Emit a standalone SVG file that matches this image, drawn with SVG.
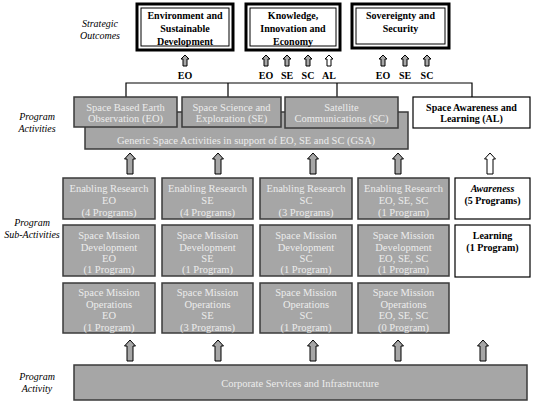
<svg xmlns="http://www.w3.org/2000/svg" width="537" height="408" viewBox="0 0 537 408">
<style>
text{font-family:'Liberation Serif','Times New Roman','DejaVu Serif',serif}
.lbl{font-style:italic;font-size:10px;fill:#000;text-anchor:middle}
.ob{fill:#fff;stroke:#000;stroke-width:3}
.obi{fill:none;stroke:#000;stroke-width:1}
.bt{font-weight:bold;font-size:10px;fill:#000;text-anchor:middle}
.g{fill:#a6a6a6;stroke:#3a3a3a;stroke-width:1.5}
.gt{font-size:10.5px;fill:#ececec;text-anchor:middle}
.w{fill:#fff;stroke:#000;stroke-width:1.2}
.conn{fill:none;stroke:#000;stroke-width:1.2}
.arr{fill:#a6a6a6;stroke:#000;stroke-width:1}
.harr{fill:#fff;stroke:#000;stroke-width:1}
</style>
<defs>
<path id="sa" d="M0,0 L4,4 L2,4 L2,11 L-2,11 L-2,4 L-4,4 Z"/>
<path id="ba" d="M0,0 L5.5,6 L3,6 L3,21 L-3,21 L-3,6 L-5.5,6 Z"/>
</defs>

<g id="side-labels">
<text class="lbl" x="100" y="27">Strategic</text>
<text class="lbl" x="100" y="39">Outcomes</text>
<text class="lbl" x="37" y="120">Program</text>
<text class="lbl" x="37" y="132">Activities</text>
<text class="lbl" x="32" y="226">Program</text>
<text class="lbl" x="32" y="238">Sub-Activities</text>
<text class="lbl" x="37" y="380">Program</text>
<text class="lbl" x="37" y="392">Activity</text>
</g>

<g id="outcome-env">
<rect class="ob" x="137" y="4" width="96" height="46"/>
<rect class="obi" x="141" y="8" width="88" height="38"/>
<text class="bt" x="185" y="18.5">Environment and</text>
<text class="bt" x="185" y="31.5">Sustainable</text>
<text class="bt" x="185" y="44.5">Development</text>
</g>
<g id="outcome-knowledge">
<rect class="ob" x="246" y="4" width="94" height="46"/>
<rect class="obi" x="250" y="8" width="86" height="38"/>
<text class="bt" x="293" y="18.5">Knowledge,</text>
<text class="bt" x="293" y="31.5">Innovation and</text>
<text class="bt" x="293" y="44.5">Economy</text>
</g>
<g id="outcome-sovereignty">
<rect class="ob" x="352" y="4" width="97" height="44"/>
<rect class="obi" x="356" y="8" width="89" height="36"/>
<text class="bt" x="400.5" y="18.5">Sovereignty and</text>
<text class="bt" x="400.5" y="31.5">Security</text>
</g>

<g id="connectors">
<use href="#sa" class="arr" x="185" y="55"/>
<use href="#sa" class="arr" x="266" y="55"/>
<use href="#sa" class="arr" x="287" y="55"/>
<use href="#sa" class="arr" x="308" y="55"/>
<use href="#sa" class="harr" x="329" y="55"/>
<use href="#sa" class="arr" x="383" y="55"/>
<use href="#sa" class="arr" x="405" y="55"/>
<use href="#sa" class="arr" x="427" y="55"/>
<text class="bt" x="185" y="79">EO</text>
<text class="bt" x="266" y="79">EO</text>
<text class="bt" x="287" y="79">SE</text>
<text class="bt" x="308" y="79">SC</text>
<text class="bt" x="329" y="79">AL</text>
<text class="bt" x="383" y="79">EO</text>
<text class="bt" x="405" y="79">SE</text>
<text class="bt" x="427" y="79">SC</text>
<path class="conn" d="M126,97 V83 H472 V97 M228,83 V97 M337,83 V97"/>
<use href="#ba" class="arr" x="130" y="153"/>
<use href="#ba" class="arr" x="218" y="153"/>
<use href="#ba" class="arr" x="313" y="153"/>
<use href="#ba" class="arr" x="398" y="153"/>
<use href="#ba" class="harr" x="490" y="153"/>
<use href="#ba" class="arr" x="130" y="340"/>
<use href="#ba" class="arr" x="218" y="340"/>
<use href="#ba" class="arr" x="313" y="340"/>
<use href="#ba" class="arr" x="398" y="340"/>
<use href="#ba" class="arr" x="483" y="340"/>
</g>

<g id="gsa">
<rect class="g" x="85" y="112" width="323" height="37"/>
<text class="gt" x="246" y="143.5">Generic Space Activities in support of EO, SE and SC (GSA)</text>
</g>
<g id="pa-eo">
<rect class="g" x="74" y="97" width="103" height="30"/>
<text class="gt" x="125.5" y="110.5">Space Based Earth</text>
<text class="gt" x="125.5" y="122">Observation (EO)</text>
</g>
<g id="pa-se">
<rect class="g" x="182" y="97" width="99" height="30"/>
<text class="gt" x="231.5" y="110.5">Space Science and</text>
<text class="gt" x="231.5" y="122">Exploration (SE)</text>
</g>
<g id="pa-sc">
<rect class="g" x="285" y="97" width="113" height="31"/>
<text class="gt" x="341.5" y="110.5">Satellite</text>
<text class="gt" x="341.5" y="122">Communications (SC)</text>
</g>
<g id="pa-al">
<rect class="w" x="413" y="97" width="117" height="31"/>
<text class="bt" x="471.5" y="110.5">Space Awareness and</text>
<text class="bt" x="471.5" y="122">Learning (AL)</text>
</g>

<g id="er-eo">
<rect class="g" x="63" y="178" width="92" height="41"/>
<text class="gt" x="109" y="191.5">Enabling Research</text>
<text class="gt" x="109" y="203.5">EO</text>
<text class="gt" x="109" y="215.5">(4 Programs)</text>
</g>
<g id="er-se">
<rect class="g" x="162" y="178" width="91" height="41"/>
<text class="gt" x="207.5" y="191.5">Enabling Research</text>
<text class="gt" x="207.5" y="203.5">SE</text>
<text class="gt" x="207.5" y="215.5">(4 Programs)</text>
</g>
<g id="er-sc">
<rect class="g" x="260" y="178" width="92" height="41"/>
<text class="gt" x="306" y="191.5">Enabling Research</text>
<text class="gt" x="306" y="203.5">SC</text>
<text class="gt" x="306" y="215.5">(3 Programs)</text>
</g>
<g id="er-all">
<rect class="g" x="358" y="178" width="91" height="41"/>
<text class="gt" x="403.5" y="191.5">Enabling Research</text>
<text class="gt" x="403.5" y="203.5">EO, SE, SC</text>
<text class="gt" x="403.5" y="215.5">(1 Program)</text>
</g>
<g id="awareness">
<rect class="w" x="455" y="178" width="75" height="41"/>
<text class="bt" x="492.5" y="191.5" font-style="italic">Awareness</text>
<text class="bt" x="492.5" y="203.5">(5 Programs)</text>
</g>

<g id="smd-eo">
<rect class="g" x="63" y="225" width="92" height="51"/>
<text class="gt" x="109" y="238.5">Space Mission</text>
<text class="gt" x="109" y="250.5">Development</text>
<text class="gt" x="109" y="261.5">EO</text>
<text class="gt" x="109" y="272.5">(1 Program)</text>
</g>
<g id="smd-se">
<rect class="g" x="162" y="225" width="91" height="51"/>
<text class="gt" x="207.5" y="238.5">Space Mission</text>
<text class="gt" x="207.5" y="250.5">Development</text>
<text class="gt" x="207.5" y="261.5">SE</text>
<text class="gt" x="207.5" y="272.5">(1 Program)</text>
</g>
<g id="smd-sc">
<rect class="g" x="260" y="225" width="92" height="51"/>
<text class="gt" x="306" y="238.5">Space Mission</text>
<text class="gt" x="306" y="250.5">Development</text>
<text class="gt" x="306" y="261.5">SC</text>
<text class="gt" x="306" y="272.5">(1 Program)</text>
</g>
<g id="smd-all">
<rect class="g" x="358" y="225" width="91" height="51"/>
<text class="gt" x="403.5" y="238.5">Space Mission</text>
<text class="gt" x="403.5" y="250.5">Development</text>
<text class="gt" x="403.5" y="261.5">EO, SE, SC</text>
<text class="gt" x="403.5" y="272.5">(1 Program)</text>
</g>
<g id="learning">
<rect class="w" x="455" y="225" width="75" height="52"/>
<text class="bt" x="492.5" y="238.5">Learning</text>
<text class="bt" x="492.5" y="250.5">(1 Program)</text>
</g>

<g id="smo-eo">
<rect class="g" x="63" y="283" width="92" height="50"/>
<text class="gt" x="109" y="295.5">Space Mission</text>
<text class="gt" x="109" y="307.5">Operations</text>
<text class="gt" x="109" y="318.5">EO</text>
<text class="gt" x="109" y="330.5">(1 Program)</text>
</g>
<g id="smo-se">
<rect class="g" x="162" y="283" width="91" height="50"/>
<text class="gt" x="207.5" y="295.5">Space Mission</text>
<text class="gt" x="207.5" y="307.5">Operations</text>
<text class="gt" x="207.5" y="318.5">SE</text>
<text class="gt" x="207.5" y="330.5">(3 Programs)</text>
</g>
<g id="smo-sc">
<rect class="g" x="260" y="283" width="92" height="50"/>
<text class="gt" x="306" y="295.5">Space Mission</text>
<text class="gt" x="306" y="307.5">Operations</text>
<text class="gt" x="306" y="318.5">SC</text>
<text class="gt" x="306" y="330.5">(1 Program)</text>
</g>
<g id="smo-all">
<rect class="g" x="358" y="283" width="91" height="50"/>
<text class="gt" x="403.5" y="295.5">Space Mission</text>
<text class="gt" x="403.5" y="307.5">Operations</text>
<text class="gt" x="403.5" y="318.5">EO, SE, SC</text>
<text class="gt" x="403.5" y="330.5">(0 Program)</text>
</g>

<g id="corporate">
<rect class="g" x="74" y="365" width="453" height="35"/>
<text class="gt" x="300" y="386.5">Corporate Services and Infrastructure</text>
</g>
</svg>
